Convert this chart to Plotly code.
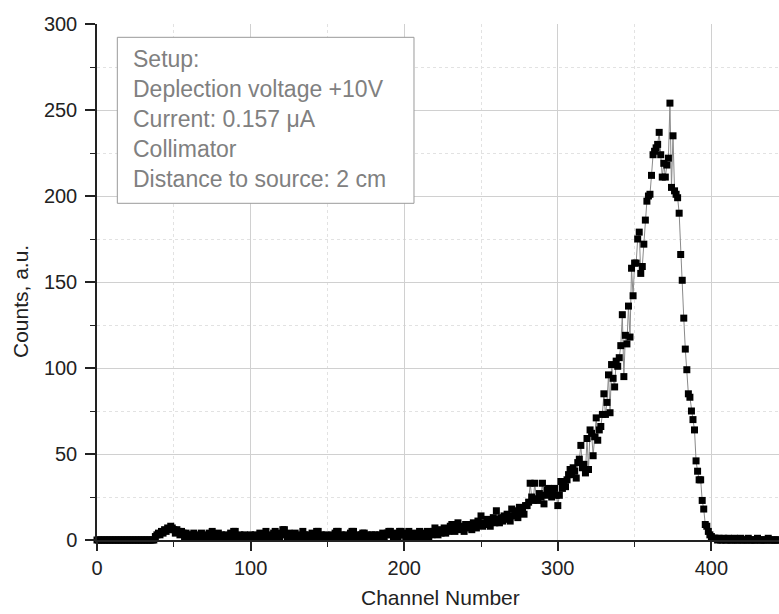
import plotly.graph_objects as go

# ---- data: counts per channel (channel index = position in list, starting at 0) ----
counts_0_39 = [0] * 38 + [2, 3]
counts_40_99 = [4, 3, 5, 4, 6, 5, 7, 6, 8, 7,
                6, 4, 6, 5, 3, 5, 4, 2, 4, 3,
                2, 3, 2, 4, 1, 3, 2, 1, 4, 2,
                3, 1, 2, 4, 2, 5, 3, 1, 2, 4,
                2, 3, 1, 2, 3, 1, 2, 4, 2, 5,
                5, 2, 1, 3, 2, 1, 3, 2, 1, 2]
counts_100_199 = [3, 1, 2, 3, 1, 2, 4, 2, 1, 3,
                  5, 2, 3, 1, 2, 4, 5, 2, 3, 1,
                  4, 6, 6, 3, 2, 4, 1, 3, 2, 4,
                  2, 1, 3, 2, 5, 3, 2, 1, 3, 2,
                  4, 2, 1, 5, 5, 2, 3, 1, 2, 3,
                  1, 2, 1, 3, 2, 4, 5, 5, 2, 3,
                  1, 2, 3, 1, 2, 4, 5, 5, 2, 3,
                  2, 1, 3, 4, 4, 2, 3, 1, 2, 3,
                  2, 3, 1, 2, 3, 2, 4, 2, 3, 4,
                  5, 5, 3, 2, 4, 3, 2, 5, 5, 3]
counts_200_299 = [3, 2, 4, 5, 2, 3, 1, 4, 3, 2,
                  5, 3, 2, 4, 3, 5, 2, 4, 3, 5,
                  7, 4, 3, 6, 4, 5, 7, 4, 6, 5,
                  8, 9, 6, 5, 7, 10, 6, 8, 7, 5,
                  9, 7, 8, 9, 6, 10, 8, 7, 11, 9,
                  14, 8, 10, 9, 12, 10, 8, 11, 13, 10,
                  17, 12, 10, 13, 11, 14, 12, 15, 13, 11,
                  18, 14, 15, 17, 13, 19, 16, 18, 15, 20,
                  20, 22, 33, 25, 23, 33, 24, 23, 27, 25,
                  33, 21, 26, 29, 30, 28, 25, 27, 30, 26]
counts_300_372 = [20, 26, 34, 30, 33, 31, 35, 38, 41, 38,
                  42, 40, 36, 45, 47, 55, 42, 44, 39, 59,
                  41, 64, 62, 49, 60, 71, 58, 64, 66, 73,
                  85, 73, 80, 96, 74, 102, 94, 89, 104, 101,
                  106, 113, 131, 95, 119, 114, 136, 118, 158, 142,
                  161, 161, 175, 179, 155, 159, 172, 186, 197, 200,
                  201, 212, 224, 226, 228, 230, 237, 224, 211, 219,
                  211, 218, 222]
counts_373_444 = [254, 205, 235, 203, 201, 199, 190, 166, 151, 129,
                  111, 99, 85, 83, 75, 70, 64, 46, 40, 35,
                  35, 23, 18, 9, 8, 5, 3, 2, 1, 1,
                  1, 0, 1, 0, 0, 1, 0, 0, 1, 0,
                  0, 0, 1, 0, 0, 0, 1, 0, 0, 0,
                  0, 1, 0, 0, 0, 0, 0, 1, 0, 0,
                  0, 0, 0, 0, 1, 0, 0, 0, 0, 0,
                  0, 0]

counts = counts_0_39 + counts_40_99 + counts_100_199 + counts_200_299 + counts_300_372 + counts_373_444
channels = list(range(len(counts)))

x_tickvals = [0, 100, 200, 300, 400]
y_tickvals = [0, 50, 100, 150, 200, 250, 300]

setup_lines = ["Setup:", "Deplection voltage +10V", "Current: 0.157 \u03bcA",
               "Collimator", "Distance to source: 2 cm"]

x_title = "Channel Number"
y_title = "Counts, a.u."

FONT = "Liberation Sans, Arial, Helvetica, sans-serif"

fig = go.Figure()
fig.add_trace(go.Scatter(
    x=channels, y=counts, mode="lines+markers",
    line=dict(color="#8a8a8a", width=1),
    marker=dict(symbol="square", size=7, color="black", line=dict(width=0)),
    cliponaxis=False, showlegend=False,
))

fig.update_layout(
    width=779, height=614,
    margin=dict(l=97, r=0, t=24, b=74),
    paper_bgcolor="white", plot_bgcolor="white",
    font=dict(family=FONT, color="#222222"),
)

fig.update_xaxes(
    range=[0, 444], tickvals=x_tickvals, ticktext=[str(v) for v in x_tickvals],
    showline=True, linecolor="#222222", linewidth=1.5,
    ticks="outside", ticklen=9, tickwidth=1.5, tickcolor="#222222",
    tickfont=dict(size=20, family=FONT, color="#222222"),
    showgrid=True, gridcolor="#d0d0d0", gridwidth=1,
    zeroline=False,
    minor=dict(dtick=50, tick0=0, ticks="outside", ticklen=5, tickwidth=1.2,
               tickcolor="#222222", showgrid=True, gridcolor="#e2e2e2", griddash="dot"),
)
fig.update_yaxes(
    range=[0, 300], tickvals=y_tickvals, ticktext=[str(v) for v in y_tickvals],
    showline=True, linecolor="#222222", linewidth=1.5,
    ticks="outside", ticklen=10, tickwidth=1.5, tickcolor="#222222",
    tickfont=dict(size=20, family=FONT, color="#222222"),
    ticklabelstandoff=4,
    showgrid=True, gridcolor="#d0d0d0", gridwidth=1,
    zeroline=False,
    minor=dict(dtick=25, tick0=0, ticks="outside", ticklen=5, tickwidth=1.2,
               tickcolor="#222222", showgrid=True, gridcolor="#e2e2e2", griddash="dot"),
)

# axis titles
fig.add_annotation(text=x_title, xref="paper", yref="paper", x=0.503, y=-0.112,
                   xanchor="center", yanchor="middle", showarrow=False,
                   font=dict(size=21, family=FONT, color="#222222"))
fig.add_annotation(text=y_title, xref="paper", yref="paper", x=-0.113, y=0.463,
                   xanchor="center", yanchor="middle", showarrow=False, textangle=-90,
                   font=dict(size=21, family=FONT, color="#222222"))

# setup box
fig.add_shape(type="rect", xref="paper", yref="paper",
              x0=0.0298, x1=0.4648, y0=0.6525, y1=0.9742,
              line=dict(color="#9a9a9a", width=1), fillcolor="white", layer="above")
fig.add_annotation(text="<br>".join(setup_lines), xref="paper", yref="paper",
                   x=0.0505, y=0.962, xanchor="left", yanchor="top",
                   showarrow=False, align="left",
                   font=dict(size=23, family=FONT, color="#808080"))

fig.write_html("out.html")
